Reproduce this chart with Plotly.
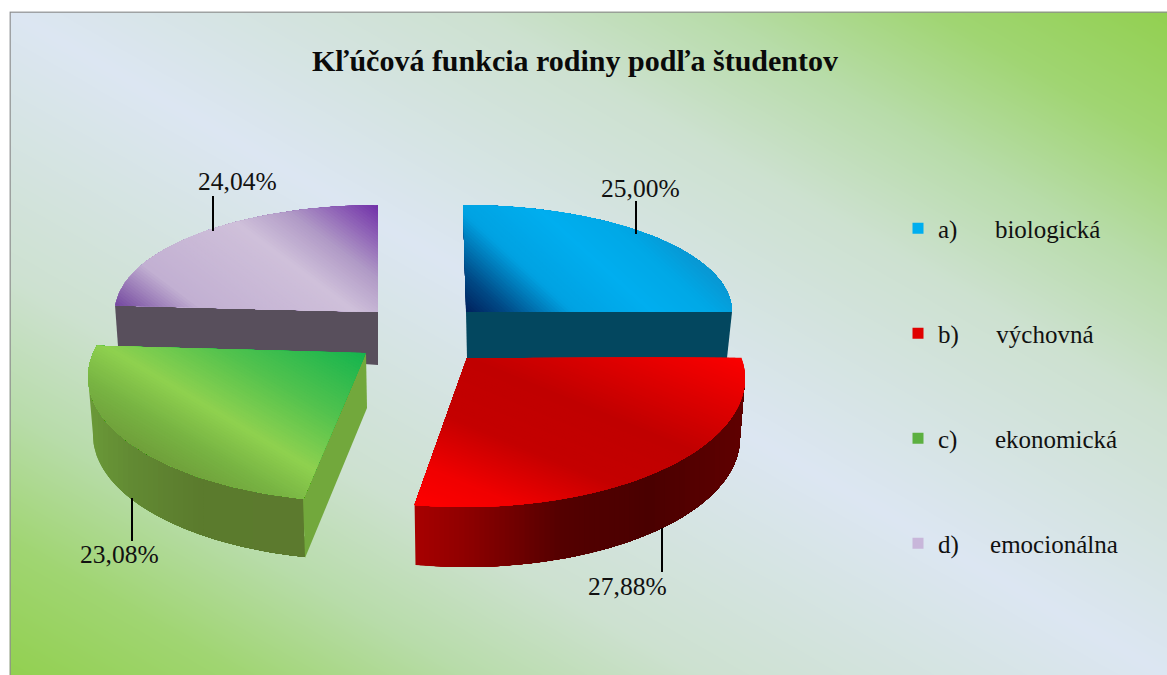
import math
import numpy as np
import plotly.graph_objects as go

# ---- data ----
categories = ["a)", "b)", "c)", "d)"]
names = ["biologická", "výchovná", "ekonomická", "emocionálna"]
gaps = [6, 6, 6, 5]
values = [25.00, 27.88, 23.08, 24.04]
title = "Kľúčová funkcia rodiny podľa študentov"

# ---- geometry of the drawn 3-D exploded pie (pixel-like axis units) ----
W, H = 1167, 675
geom = [
    dict(apex=(466, 312), c=(463, 312), rx=269, ry=107, off=(0, 0)),
    dict(apex=(467, 358), c=(465, 378), rx=280, ry=129, off=(-9, 0),
         wall=dict(dy=60, rx=275)),
    dict(apex=(366, 353), c=(365, 377), rx=277, ry=125, off=(2.5, 11),
         wall=dict(dy=58, rx=272)),
    dict(apex=(378, 312), c=(378, 312), rx=263, ry=107, off=(0, 0)),
]
top_grad = [
    dict(n=(.67, -.74), o=(466, 312), stops=[(0, "#00215c"), (28, "#004a86"), (72, "#00a2e2"),
                                              (125, "#00aeef"), (165, "#00a8e6"), (200, "#0a94cf")]),
    dict(n=(-.38, .92), o=(467, 358), stops=[(-110, "#ff0000"), (-50, "#dc0000"), (0, "#c00000"),
                                              (60, "#c40000"), (115, "#f00000"), (160, "#ff0000")]),
    dict(n=(-.51, .86), o=(366, 353), stops=[(0, "#14b44e"), (70, "#52c24e"), (127, "#8fd14f"),
                                              (165, "#78b443"), (200, "#6f9f3a")]),
    dict(n=(-.6, .8), o=(380, 205), stops=[(0, "#6f2da8"), (60, "#b09ac6"), (100, "#cfc0da"),
                                            (190, "#c2b0d2"), (225, "#8a66ad"), (245, "#6a3a9a")]),
]
wall_grad = {
    1: [(415, "#a80000"), (470, "#8c0000"), (560, "#540000"), (650, "#4a0000"), (745, "#600000")],
    2: [(88, "#6a9a38"), (130, "#628a33"), (200, "#5b7b2d"), (305, "#5c7a2e")],
}
cut_faces = [
    (0, [(466, 312), (732, 312), (727, 358), (467, 358)], "#03475f"),
    (3, [(115, 305), (378, 312), (378, 365), (118, 346)], "#584f5c"),
    (2, [(366, 353), (367, 408), (305, 558), (303, 499)], "#72a83c"),
]
leaders = [((636, 201), (636, 234)), ((662, 528), (662, 572)),
           ((132, 498), (132, 541)), ((213, 196), (213, 231))]
label_pos = [(640, 188), (627, 586), (119, 554), (237, 181)]
slice_colors = ["#00aeef", "#e00000", "#5cb040", "#c8b6da"]
FONT = "Liberation Serif"


def hex2rgb(h):
    return np.array([int(h[i:i + 2], 16) for i in (1, 3, 5)], float)


def color_at(stops, s):
    if s <= stops[0][0]:
        return stops[0][1]
    for (a, ca), (b, cb) in zip(stops, stops[1:]):
        if s <= b:
            c = hex2rgb(ca) + (hex2rgb(cb) - hex2rgb(ca)) * (s - a) / (b - a)
            return "rgb(%d,%d,%d)" % tuple(c.round())
    return stops[-1][1]


def clip(poly, n, lim):
    out = []
    m = len(poly)
    def d(p):
        return n[0] * p[0] + n[1] * p[1] - lim
    for i in range(m):
        p, q = poly[i], poly[(i + 1) % m]
        dp, dq = d(p), d(q)
        if dp >= 0:
            out.append(p)
        if (dp >= 0) != (dq >= 0):
            t = dp / (dp - dq)
            out.append((p[0] + (q[0] - p[0]) * t, p[1] + (q[1] - p[1]) * t))
    return out


def band_traces(poly, n, o, stops, step=2.5):
    # painter's gradient: each layer covers everything past its start line
    base = n[0] * o[0] + n[1] * o[1]
    proj = [n[0] * p[0] + n[1] * p[1] - base for p in poly]
    s = min(proj)
    res = []
    while s < max(proj):
        pp = clip(poly, n, base + s)
        if len(pp) >= 3:
            col = color_at(stops, s + step / 2)
            xs = [p[0] for p in pp] + [pp[0][0]]
            ys = [p[1] for p in pp] + [pp[0][1]]
            res.append(go.Scatter(x=xs, y=ys, mode="lines", fill="toself", fillcolor=col,
                                  line=dict(width=0), hoverinfo="skip", showlegend=False))
        s += step
    return res


def arc(c, rx, ry, a0, a1, num=60):
    return [(c[0] + rx * math.sin(math.radians(a)), c[1] - ry * math.cos(math.radians(a)))
            for a in np.linspace(a0, a1, num)]


# ---- figure ----
fig = go.Figure()

# background gradient
xs = np.linspace(0, W, 90)
ys = np.linspace(0, H, 60)
u = (xs - 10) / (W - 10)
v = (ys - 12) / (H - 12)
z = [[(ui + 1 - vi) / 2 for ui in u] for vi in v]
fig.add_trace(go.Heatmap(x=xs, y=ys, z=z, zmin=0, zmax=1, zsmooth="best", showscale=False, hoverinfo="skip",
                         colorscale=[[0, "#92d050"], [.1, "#a0d572"], [.2, "#b8dcaa"], [.3, "#cde1d0"], [.5, "#dce6f2"],
                                     [.7, "#cde1d0"], [.8, "#b8dcaa"], [.9, "#a0d572"], [1, "#92d050"]]))

# slice angles come from the values
total = sum(values)
cum = np.cumsum([0] + values) / total * 360
angles = []
for i in range(4):
    g = geom[i]
    angles.append((cum[i] + g["off"][0], cum[i + 1] + g["off"][1]))


def add_face(idx):
    for j, pts, col in cut_faces:
        if j == idx:
            fig.add_trace(go.Scatter(x=[p[0] for p in pts] + [pts[0][0]], y=[p[1] for p in pts] + [pts[0][1]],
                                     mode="lines", fill="toself", fillcolor=col, line=dict(width=0),
                                     hoverinfo="skip", showlegend=False))


for i in [3, 0, 2, 1]:
    g = geom[i]
    a0, a1 = angles[i]
    if "wall" in g:
        w = g["wall"]
        lo, hi = max(a0, 90), min(a1, 270)
        top = arc(g["c"], g["rx"], g["ry"], lo, hi)
        bot = arc((g["c"][0], g["c"][1] + w["dy"]), w["rx"], g["ry"], hi, lo)
        for tr in band_traces(top + bot, (1, 0), (0, 0), wall_grad[i], step=5):
            fig.add_trace(tr)
    add_face(i)
    poly = [g["apex"]] + arc(g["c"], g["rx"], g["ry"], a0, a1)
    tg = top_grad[i]
    for tr in band_traces(poly, tg["n"], tg["o"], tg["stops"]):
        fig.add_trace(tr)

# leader lines
for (p, q) in leaders:
    fig.add_trace(go.Scatter(x=[p[0], q[0]], y=[p[1], q[1]], mode="lines", line=dict(color="#000000", width=2),
                             hoverinfo="skip", showlegend=False))

# legend entries
for i in range(4):
    fig.add_trace(go.Scatter(x=[-50], y=[-50], mode="markers", legendgroup=categories[i],
                             name=categories[i] + "\u00a0" * gaps[i] + names[i],
                             marker=dict(symbol="square", size=11, color=slice_colors[i])))

# value labels
annotations = [dict(x=label_pos[i][0], y=label_pos[i][1], xref="x", yref="y", showarrow=False,
                    text=f"{values[i]:.2f}".replace(".", ",") + "%",
                    font=dict(family=FONT, size=25.5, color="#111111"))
               for i in range(4)]

fig.update_layout(
    width=W, height=H, margin=dict(l=0, r=0, t=0, b=0), paper_bgcolor="white", plot_bgcolor="white",
    xaxis=dict(range=[0, W], visible=False, fixedrange=True),
    yaxis=dict(range=[H, 0], visible=False, fixedrange=True),
    title=dict(text="<b>" + title + "</b>", x=575 / W, y=1 - 60 / H, xanchor="center", yanchor="middle",
               font=dict(family=FONT, size=30, color="#0a0a0a")),
    legend=dict(x=898 / W, y=1 - 205.5 / H, xanchor="left", yanchor="top", bgcolor="rgba(0,0,0,0)",
                tracegroupgap=69.5, itemwidth=30, font=dict(family=FONT, size=25, color="#111111")),
    annotations=annotations,
    shapes=[dict(type="rect", xref="x", yref="y", x0=10, y0=12, x1=W + 5, y1=H + 5,
                 line=dict(color="#8c8c8c", width=1.5))],
)
# white margin outside the frame
fig.add_shape(type="rect", xref="x", yref="y", x0=-1, y0=-1, x1=W + 1, y1=11.5, fillcolor="white", line=dict(width=0))
fig.add_shape(type="rect", xref="x", yref="y", x0=-1, y0=-1, x1=9.5, y1=H + 1, fillcolor="white", line=dict(width=0))

fig.write_html("out.html", config=dict(displayModeBar=False), post_script="document.body.style.margin='0';")
